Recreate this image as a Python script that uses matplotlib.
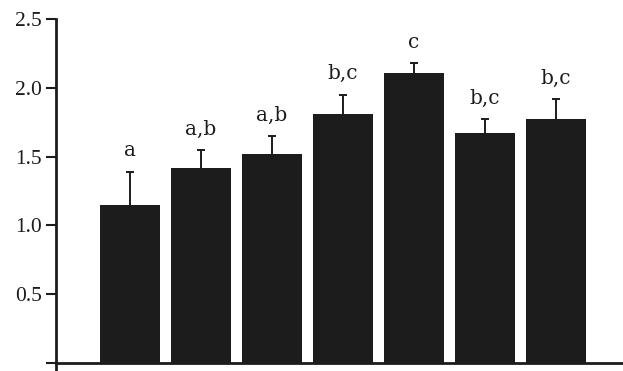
import numpy as np
import matplotlib
matplotlib.use("Agg")
import matplotlib.pyplot as plt

plt.rcParams['font.family'] = ['Liberation Serif', 'DejaVu Serif']

groups = np.arange(7)
means = [1.15, 1.42, 1.52, 1.81, 2.11, 1.67, 1.77]
errs = [0.24, 0.13, 0.13, 0.14, 0.07, 0.10, 0.15]
letters = ['a', 'a,b', 'a,b', 'b,c', 'c', 'b,c', 'b,c']
yticks = [0, 0.5, 1.0, 1.5, 2.0, 2.5]
ytick_labels = ['', '0.5', '1.0', '1.5', '2.0', '2.5']

fig = plt.figure(figsize=(6.23, 3.71), dpi=100)
ax = fig.add_axes([0.0899, 0.0027, 0.9101, 0.9461])

ax.bar(groups, means, width=0.84, color='#1c1c1c', zorder=2)
eb = ax.errorbar(groups, means, yerr=[np.zeros(len(errs)), errs], fmt='none',
                 ecolor='#1c1c1c', elinewidth=1.4, capsize=3, capthick=1.4, zorder=1)
# only the upper caps
for cap in eb.lines[1]:
    if np.allclose(cap.get_ydata(), means):
        cap.set_visible(False)

for x, m, e, lab in zip(groups, means, errs, letters):
    ax.annotate(lab, (x, m + e), xytext=(0, 11), textcoords='offset points',
                ha='center', va='baseline', fontsize=14.5, color='#1c1c1c',
                family=['DejaVu Serif'])

ax.set_xlim(-1.042, 6.944)
ax.set_ylim(-0.051, 2.5)
ax.set_xticks([])
ax.set_yticks(yticks)
ax.set_yticklabels(ytick_labels, fontsize=15.5)
ax.tick_params(axis='y', direction='out', length=7, width=1.5, pad=3, color='#1c1c1c',
               labelcolor='#1c1c1c')

for side in ['top', 'right']:
    ax.spines[side].set_visible(False)
ax.spines['bottom'].set_position(('data', 0))
ax.spines['bottom'].set_linewidth(2)
ax.spines['left'].set_linewidth(2)
ax.spines['bottom'].set_color('#1c1c1c')
ax.spines['left'].set_color('#1c1c1c')

fig.savefig('out.png', dpi=100)
